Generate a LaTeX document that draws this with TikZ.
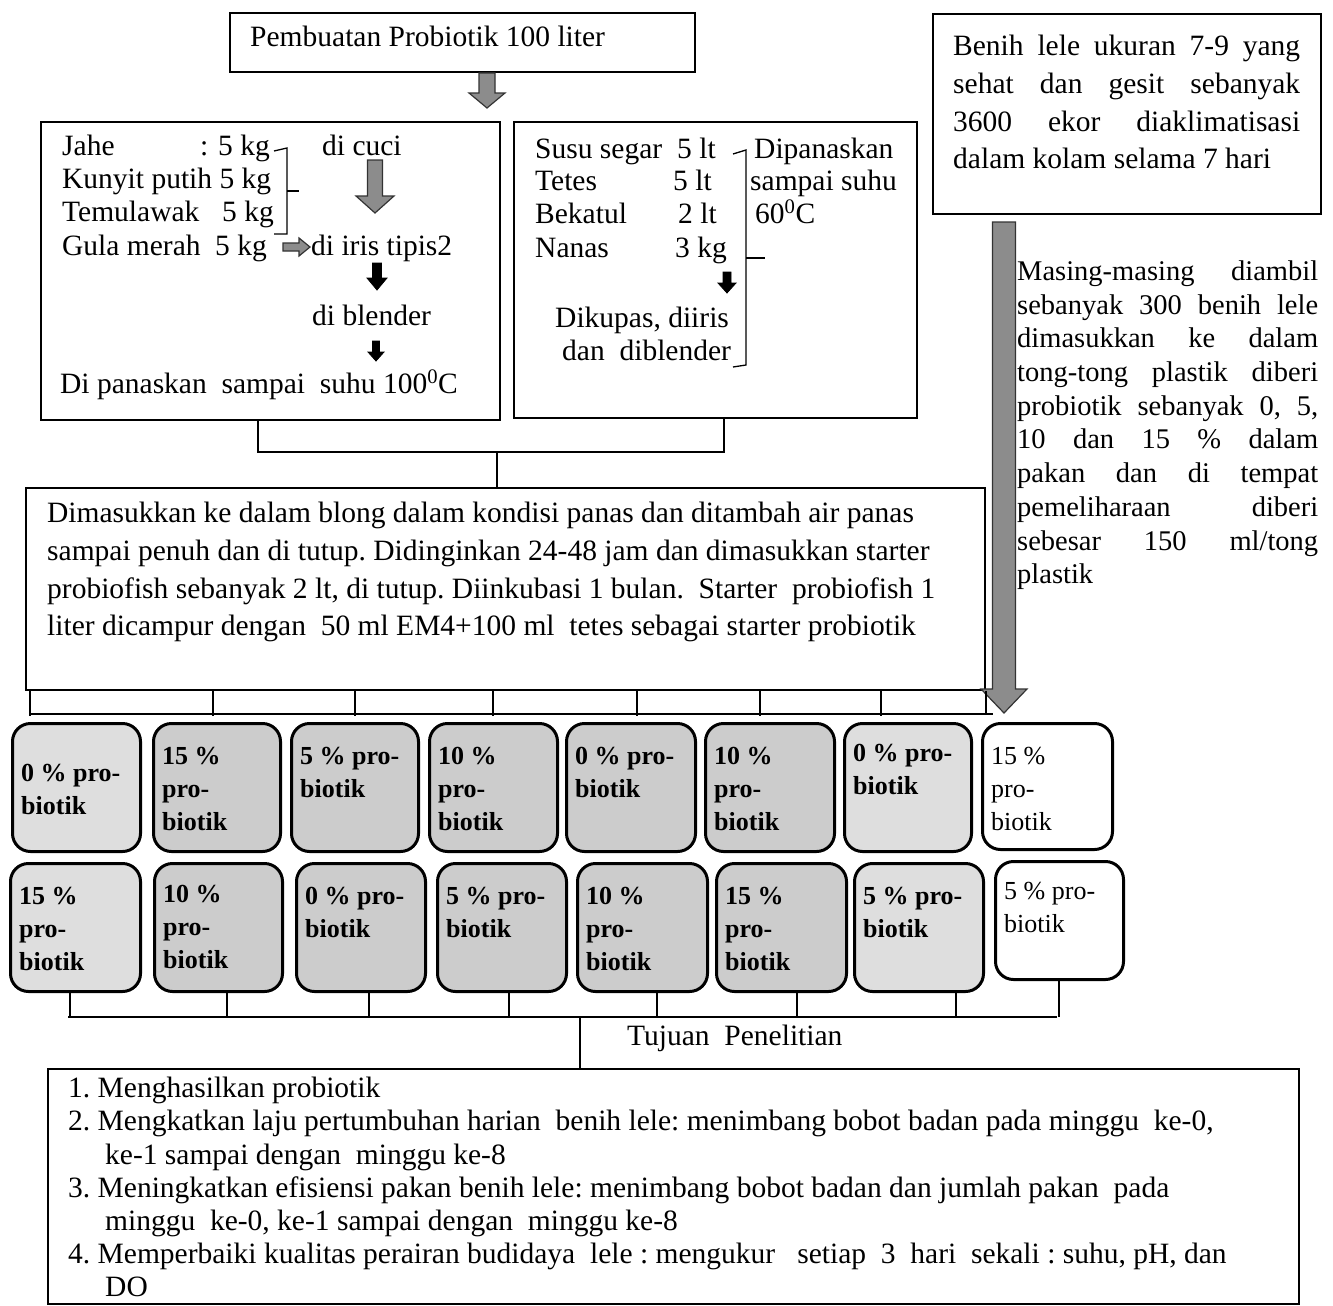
\documentclass[tikz,border=0pt]{standalone}
\usepackage{fontspec}
\setmainfont{Liberation Serif}
\usetikzlibrary{calc}
\frenchspacing
\definecolor{tankA}{gray}{0.87}
\definecolor{tankB}{gray}{0.80}
\newcommand{\fs}{\fontsize{29.5}{33.5}\selectfont}
\tikzset{
  box/.style={draw, line width=1.6pt, fill=white, anchor=north west, inner sep=0pt},
  conn/.style={draw, line width=2pt},
  tank/.style={draw, line width=3pt, rounded corners=18pt, anchor=north west, inner sep=0pt},
  tanklabel/.style={anchor=north west, inner sep=0pt, align=left, font=\bfseries\fontsize{26}{33}\selectfont},
  txt/.style={anchor=base west, inner sep=0pt, font=\fs},
  para/.style={anchor=north west, inner sep=0pt, align=justify, font=\fontsize{29.5}{37.7}\selectfont},
  plain/.style={anchor=north west, inner sep=0pt, align=left, font=\fontsize{29.5}{37.7}\selectfont},
  grayarrow/.style={fill=black!45, draw=black!80, line width=1.2pt},
  blackarrow/.style={fill=black, draw=black, line width=0.8pt},
  bracket/.style={draw, line width=1.3pt}
}
% #1 style, #2 top, #3 tip, #4 half shaft, #5 half head, #6 head length
\newcommand{\fatdown}[6]{%
  \path[#1] ($(#2)+(-#4,0)$) -- ($(#2)+(#4,0)$) -- ($(#3)+(#4,-#6)$) -- ($(#3)+(#5,-#6)$) -- (#3)
    -- ($(#3)+(-#5,-#6)$) -- ($(#3)+(-#4,-#6)$) -- cycle;}
\newcommand{\fatright}[6]{%
  \path[#1] ($(#2)+(0,-#4)$) -- ($(#3)+(-#6,-#4)$) -- ($(#3)+(-#6,-#5)$) -- (#3)
    -- ($(#3)+(-#6,#5)$) -- ($(#3)+(-#6,#4)$) -- ($(#2)+(0,#4)$) -- cycle;}
% name, x, y, w, h, fill, label, first-baseline offset
\newcommand{\tankbox}[8]{%
  \node[tank, fill=#6, minimum width=#4pt, minimum height=#5pt] (#1) at (#2,#3) {};
  \node[tanklabel] (#1l) at (#2+10,#3+#8-17.6) {#7};}
\begin{document}
\begin{tikzpicture}[x=1pt,y=-1pt]
\useasboundingbox[fill=white] (0,0) rectangle (1333,1306);

% ---------- boxes ----------
\node[box, minimum width=465pt, minimum height=59pt] (tb) at (229,12) {};
\node[box, minimum width=459pt, minimum height=298pt] (lb) at (40,121) {};
\node[box, minimum width=403pt, minimum height=296pt] (mb) at (513,121) {};
\node[box, minimum width=388pt, minimum height=200pt] (rb) at (932,13) {};
\node[box, minimum width=959pt, minimum height=202pt] (bb) at (25,487) {};
\node[box, minimum width=1251pt, minimum height=235pt] (ob) at (47,1068) {};

% ---------- top box ----------
\node[txt] (tbt) at (250,47) {Pembuatan Probiotik 100 liter};
\coordinate (a0top) at (487,73);
\coordinate (a0tip) at (487,108);
\fatdown{grayarrow}{a0top}{a0tip}{8}{18}{15}

% ---------- left box ----------
\node[txt] (jahe) at (62,155) {Jahe};
\node[txt] (jahec) at (200,155) {:};
\node[txt] (jahekg) at (218,155) {5 kg};
\node[txt] (kunyit) at (62,188) {Kunyit putih 5 kg};
\node[txt] (temu) at (62,221) {Temulawak};
\node[txt] (temukg) at (222,221) {5 kg};
\node[txt] (gula) at (62,255) {Gula merah};
\node[txt] (gulakg) at (215,255) {5 kg};
\node[txt] (cuci) at (322,155) {di cuci};
\node[txt] (iris) at (311,255) {di iris tipis2};
\node[txt] (blend) at (312,325) {di blender};
\node[txt] (panas) at (60,393) {Di panaskan\ \ sampai\ \ suhu 100\textsuperscript{0}C};
\path[bracket] (274,151) -- (287,148) -- (287,234) -- (274,234);
\path[bracket] (287,191) -- (299,191);
\coordinate (a1top) at (375,160);
\coordinate (a1tip) at (375,213);
\fatdown{grayarrow}{a1top}{a1tip}{7.5}{19}{17}
\coordinate (a2s) at (283,247);
\coordinate (a2e) at (310,247);
\fatright{grayarrow}{a2s}{a2e}{4}{9}{11}
\coordinate (a3top) at (377,263);
\coordinate (a3tip) at (377,290);
\fatdown{blackarrow}{a3top}{a3tip}{4.5}{10}{12}
\coordinate (a4top) at (376,341);
\coordinate (a4tip) at (376,361);
\fatdown{blackarrow}{a4top}{a4tip}{3.5}{8}{9}

% ---------- middle box ----------
\node[txt] (susu) at (535,158) {Susu segar};
\node[txt] (susul) at (677,158) {5 lt};
\node[txt] (tetes) at (535,190) {Tetes};
\node[txt] (tetesl) at (673,190) {5 lt};
\node[txt] (bek) at (535,223) {Bekatul};
\node[txt] (bekl) at (678,223) {2 lt};
\node[txt] (nanas) at (535,257) {Nanas};
\node[txt] (nanasl) at (675,257) {3 kg};
\node[txt] (dipa) at (754,158) {Dipanaskan};
\node[txt] (samp) at (750,190) {sampai suhu};
\node[txt] (enam) at (755,223) {60\textsuperscript{0}C};
\node[txt] (kupas) at (555,327) {Dikupas, diiris};
\node[txt] (diblend) at (562,360) {dan\ \ diblender};
\path[bracket] (733,154) -- (746,150) -- (746,365) -- (733,367);
\path[bracket] (746,258) -- (765,258);
\coordinate (a5top) at (727,272);
\coordinate (a5tip) at (727,293);
\fatdown{blackarrow}{a5top}{a5tip}{4}{9}{10}

% ---------- joining the two recipe boxes ----------
\coordinate (j1) at (497,452);
\draw[conn] ([xshift=-12.5pt]lb.south) |- (j1) -| ([xshift=8.5pt]mb.south);
\draw[conn] (j1) -- (j1 |- bb.north);

% ---------- right column ----------
\node[para, text width=347pt] (rbt) at (953,35) {Benih lele ukuran 7-9 yang\linebreak sehat dan gesit sebanyak\linebreak 3600 ekor diaklimatisasi\linebreak dalam kolam selama 7 hari};
\coordinate (bigtop) at (1004,222);
\coordinate (bigtip) at (1004,713);
\fatdown{grayarrow}{bigtop}{bigtip}{11.5}{23}{24}
\node[para, text width=301pt, font=\fontsize{28.5}{33.7}\selectfont] (mst) at (1017,260.5) {Masing-masing diambil\linebreak sebanyak 300 benih lele\linebreak dimasukkan ke dalam\linebreak tong-tong plastik diberi\linebreak probiotik sebanyak 0, 5,\linebreak 10 dan 15 \% dalam\linebreak pakan dan di tempat\linebreak pemeliharaan diberi\linebreak sebesar 150 ml/tong\linebreak plastik};

% ---------- big box ----------
\node[plain] (bbt) at (47,502) {Dimasukkan ke dalam blong dalam kondisi panas dan ditambah air panas\\
sampai penuh dan di tutup. Didinginkan 24-48 jam dan dimasukkan starter\\
probiofish sebanyak 2 lt, di tutup. Diinkubasi 1 bulan.\ \ Starter\ \ probiofish 1\\
liter dicampur dengan\ \ 50 ml EM4+100 ml\ \ tetes sebagai starter probiotik};

% ---------- bus to tanks ----------
\coordinate (b1L) at (30,714);
\coordinate (b1R) at (993,714);
\draw[conn] (b1L) -- (b1R);
\foreach \dx in {5,188,330,468,612,735,856}
  \draw[conn] ([xshift=\dx pt]bb.south west) -- ++(0,25);
\draw[conn] (bb.south east) -- (bb.south east |- b1R);

% ---------- tanks ----------
\tankbox{t1}{11}{722}{128}{128}{tankA}{0 \% pro-\\biotik}{60}
\tankbox{t2}{152}{722}{127}{128}{tankB}{15 \%\\pro-\\biotik}{43}
\tankbox{t3}{290}{722}{127}{128}{tankB}{5 \% pro-\\biotik}{43}
\tankbox{t4}{428}{722}{128}{128}{tankB}{10 \%\\pro-\\biotik}{43}
\tankbox{t5}{565}{722}{129}{128}{tankB}{0 \% pro-\\biotik}{43}
\tankbox{t6}{704}{722}{129}{128}{tankB}{10 \%\\pro-\\biotik}{43}
\tankbox{t7}{843}{722}{127}{128}{tankA}{0 \% pro-\\biotik}{40}
\tankbox{t8}{981}{722}{130}{126}{white}{\mdseries 15 \%\\\mdseries pro-\\\mdseries biotik}{43}
\tankbox{u1}{9}{862}{130}{128}{tankA}{15 \%\\pro-\\biotik}{43}
\tankbox{u2}{153}{862}{128}{128}{tankB}{10 \%\\pro-\\biotik}{41}
\tankbox{u3}{295}{862}{129}{128}{tankB}{0 \% pro-\\biotik}{43}
\tankbox{u4}{436}{862}{129}{128}{tankB}{5 \% pro-\\biotik}{43}
\tankbox{u5}{576}{862}{130}{128}{tankB}{10 \%\\pro-\\biotik}{43}
\tankbox{u6}{715}{862}{130}{128}{tankB}{15 \%\\pro-\\biotik}{43}
\tankbox{u7}{853}{862}{129}{128}{tankA}{5 \% pro-\\biotik}{43}
\tankbox{u8}{994}{860}{128}{118}{white}{\mdseries 5 \% pro-\\\mdseries biotik}{40}

% ---------- bus to goals ----------
\coordinate (b2L) at (68,1017);
\coordinate (b2R) at (1057,1017);
\draw[conn] (b2L) -- (b2R);
\foreach \t/\dx in {u1/-6,u2/8,u3/8,u4/7,u5/14,u6/15,u7/37,u8/-1}
  \draw[conn] ([xshift=\dx pt]\t.south) -- ([xshift=\dx pt]\t.south |- b2L);
\coordinate (trk) at (580,1017);
\draw[conn] (trk) -- (trk |- ob.north);
\node[txt] (tuj) at (627,1045) {Tujuan\ \ Penelitian};

% ---------- goals box ----------
\node[plain, font=\fontsize{29.5}{33.2}\selectfont] (obt) at (68,1077) {1. Menghasilkan probiotik\\
2. Mengkatkan laju pertumbuhan harian\ \ benih lele: menimbang bobot badan pada minggu\ \ ke-0,\\
\hspace*{37pt}ke-1 sampai dengan\ \ minggu ke-8\\
3. Meningkatkan efisiensi pakan benih lele: menimbang bobot badan dan jumlah pakan\ \ pada\\
\hspace*{37pt}minggu\ \ ke-0, ke-1 sampai dengan\ \ minggu ke-8\\
4. Memperbaiki kualitas perairan budidaya\ \ lele : mengukur\ \ \ setiap\ \ 3\ \ hari\ \ sekali : suhu, pH, dan\\
\hspace*{37pt}DO};
\end{tikzpicture}
\end{document}
